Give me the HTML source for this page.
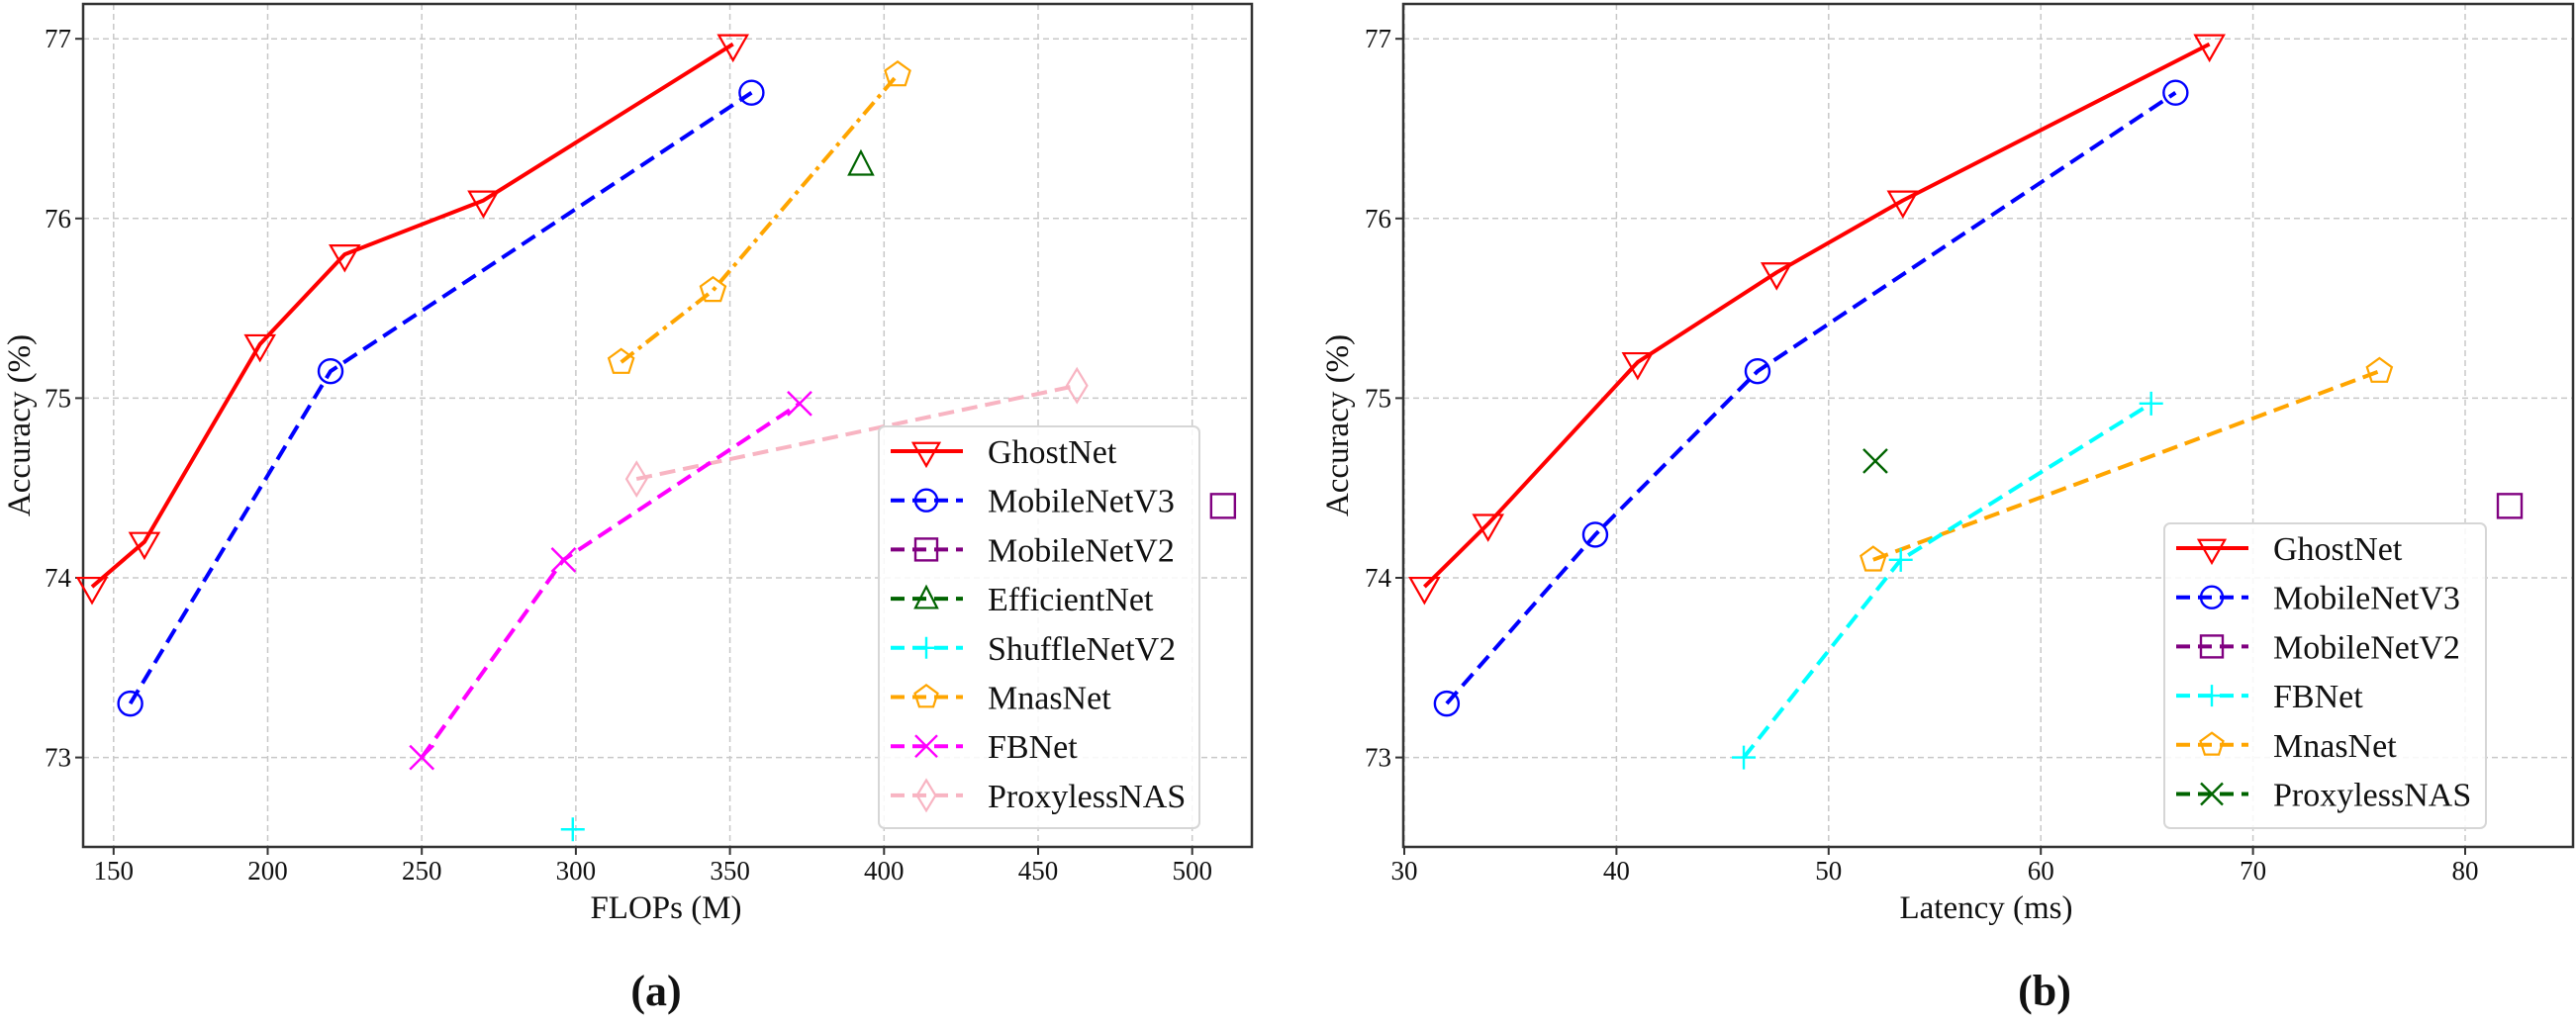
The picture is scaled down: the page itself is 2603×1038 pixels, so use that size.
<!DOCTYPE html>
<html><head><meta charset="utf-8">
<style>
html,body{margin:0;padding:0;background:#fff;}
svg{display:block;font-family:"Liberation Serif",serif;}
svg text{font-family:"Liberation Serif",serif;fill:#111;}
</style></head>
<body>
<svg id="fig" width="2603" height="1038" viewBox="0 0 2603 1038" xmlns="http://www.w3.org/2000/svg" font-family="Liberation Serif, serif"></svg>
<script>
// ---- Chart (a) data: FLOPs vs accuracy ----
const aGhostX = [143, 160, 197.5, 225, 270, 351];
const aGhostY = [73.95, 74.2, 75.3, 75.8, 76.1, 76.97];
const aMbv3X = [155.4, 220.4, 357];
const aMbv3Y = [73.3, 75.15, 76.7];
const aMbv2X = [510];
const aMbv2Y = [74.4];
const aEffX = [392.5];
const aEffY = [76.3];
const aShuffleX = [299];
const aShuffleY = [72.6];
const aMnasX = [314.7, 344.5, 404.4];
const aMnasY = [75.2, 75.6, 76.8];
const aFbX = [250, 296, 372.6];
const aFbY = [73.0, 74.1, 74.97];
const aProxX = [319.7, 462.6];
const aProxY = [74.55, 75.07];
const aXTicks = [150, 200, 250, 300, 350, 400, 450, 500];
const yTicks = [73, 74, 75, 76, 77];

// ---- Chart (b) data: Latency vs accuracy ----
const bGhostX = [30.95, 33.95, 41, 47.55, 53.5, 67.95];
const bGhostY = [73.95, 74.3, 75.2, 75.7, 76.1, 76.97];
const bMbv3X = [32, 39, 46.65, 66.35];
const bMbv3Y = [73.3, 74.24, 75.15, 76.7];
const bMbv2X = [82.1];
const bMbv2Y = [74.4];
const bFbX = [46, 53.4, 65.2];
const bFbY = [73.0, 74.1, 74.97];
const bMnasX = [52.1, 75.96];
const bMnasY = [74.1, 75.15];
const bProxX = [52.2];
const bProxY = [74.65];
const bXTicks = [30, 40, 50, 60, 70, 80];

const NS = "http://www.w3.org/2000/svg";
const FONT = '"Liberation Serif", serif';
const svg = document.getElementById('fig');
function el(tag, attrs, parent){
  const e = document.createElementNS(NS, tag);
  for (const k in attrs) e.setAttribute(k, attrs[k]);
  if (tag === 'text') { e.setAttribute('font-family', FONT); e.setAttribute('fill', '#111'); }
  (parent||svg).appendChild(e);
  return e;
}
function yScale(v){ return 39.2 + (77 - v) * 181.6; }

function marker(g, type, cx, cy, color, r){
  r = r || 12;
  let m = null;
  if (type === 'tri') {
    m = el('polygon', {points:`${cx-r*1.2},${cy-r*0.75} ${cx+r*1.2},${cy-r*0.75} ${cx},${cy+r*1.35}`, fill:'none', stroke:color, 'stroke-width':2.2}, g);
  } else if (type === 'triup') {
    m = el('polygon', {points:`${cx-r},${cy+r*0.85} ${cx+r},${cy+r*0.85} ${cx},${cy-r*1.1}`, fill:'none', stroke:color, 'stroke-width':2.2}, g);
  } else if (type === 'circle') {
    m = el('circle', {cx:cx, cy:cy, r:r, fill:'none', stroke:color, 'stroke-width':2.4}, g);
  } else if (type === 'square') {
    m = el('rect', {x:cx-r, y:cy-r, width:2*r, height:2*r, fill:'none', stroke:color, 'stroke-width':2.4}, g);
  } else if (type === 'plus') {
    m = el('path', {d:`M${cx-r} ${cy}H${cx+r}M${cx} ${cy-r}V${cy+r}`, stroke:color, 'stroke-width':2.4, fill:'none'}, g);
  } else if (type === 'x') {
    m = el('path', {d:`M${cx-r} ${cy-r}L${cx+r} ${cy+r}M${cx+r} ${cy-r}L${cx-r} ${cy+r}`, stroke:color, 'stroke-width':2.4, fill:'none'}, g);
  } else if (type === 'pent') {
    let pts = [];
    for (let i=0;i<5;i++){ const a = -Math.PI/2 + i*2*Math.PI/5; pts.push((cx+r*1.1*Math.cos(a)).toFixed(1)+','+(cy+r*1.1*Math.sin(a)).toFixed(1)); }
    m = el('polygon', {points:pts.join(' '), fill:'none', stroke:color, 'stroke-width':2.2}, g);
  } else if (type === 'diamond') {
    m = el('polygon', {points:`${cx},${cy-r*1.4} ${cx+r*0.85},${cy} ${cx},${cy+r*1.4} ${cx-r*0.85},${cy}`, fill:'none', stroke:color, 'stroke-width':2.2}, g);
  }
  if (!m) return null;
  
  
  return m;
}

function series(g, name, xs, ys, xs2px, color, dash, mtype, width){
  const sg = el('g', {}, g);
  
  
  if (xs.length > 1) {
    const pts = xs.map((x,i)=> xs2px(x).toFixed(1)+','+yScale(ys[i]).toFixed(1)).join(' ');
    const ln = el('polyline', {points:pts, fill:'none', stroke:color, 'stroke-width':width||4, 'stroke-dasharray':dash||'none', 'stroke-linejoin':'round'}, sg);
    
    
  }
  if (mtype) xs.forEach((x,i)=> marker(sg, mtype, xs2px(x), yScale(ys[i]), color));
}

function axes(g, x0, x1, xTicks, xs2px, prefix){
  xTicks.forEach(t=>{
    const gl = el('line', {x1:xs2px(t), x2:xs2px(t), y1:4, y2:856, stroke:'#c8c8c8', 'stroke-width':1.5, 'stroke-dasharray':'6,4'}, g);
    
    
  });
  yTicks.forEach(t=>{
    const gl = el('line', {x1:x0, x2:x1, y1:yScale(t), y2:yScale(t), stroke:'#c8c8c8', 'stroke-width':1.5, 'stroke-dasharray':'6,4'}, g);
    
    
  });
  const fr = el('rect', {x:x0, y:4, width:x1-x0, height:852, fill:'none', stroke:'#333', 'stroke-width':2.5}, g);
  
  
  xTicks.forEach(t=>{
    const px = xs2px(t);
    el('line', {x1:px, x2:px, y1:856, y2:864, stroke:'#333', 'stroke-width':2}, g);
    const tx = el('text', {x:px, y:889, 'font-size':27, 'text-anchor':'middle'}, g);
    tx.textContent = t;
    
    
  });
  yTicks.forEach(t=>{
    const py = yScale(t);
    el('line', {x1:x0-8, x2:x0, y1:py, y2:py, stroke:'#333', 'stroke-width':2}, g);
    const tx = el('text', {x:x0-12, y:py+9, 'font-size':27, 'text-anchor':'end'}, g);
    tx.textContent = t;
    
    
  });
}

function legend(g, x, y, w, h, entries, prefix){
  const lg = el('g', {}, g);
  
  
  el('rect', {x:x, y:y, width:w, height:h, rx:6, fill:'rgba(255,255,255,0.85)', stroke:'#d6d6d6', 'stroke-width':2}, lg);
  entries.forEach((e,i)=>{
    const cy = y + 25 + i*49.7;
    const eg = el('g', {}, lg);
    
    
    el('line', {x1:x+12, x2:x+85, y1:cy, y2:cy, stroke:e.color, 'stroke-width':4, 'stroke-dasharray':e.dash||'none'}, eg);
    marker(eg, e.m, x+48, cy, e.color, 11);
    const t = el('text', {x:x+110, y:cy+12, 'font-size':34}, eg);
    t.textContent = e.name;
  });
}

// ===== Chart (a) =====
const gA = el('g', {});


const ax = v => 114.8 + (v - 150) * 3.114;
axes(gA, 84, 1265, aXTicks, ax, 'chart-a');
series(gA, 'a-proxylessnas', aProxX, aProxY, ax, '#f8b4c2', '16,8', 'diamond');
series(gA, 'a-fbnet', aFbX, aFbY, ax, '#ff00ff', '16,8', 'x');
series(gA, 'a-mnasnet', aMnasX, aMnasY, ax, '#ffa500', '16,6,4,6', 'pent');
series(gA, 'a-mobilenetv3', aMbv3X, aMbv3Y, ax, '#0000ff', '16,8', 'circle');
series(gA, 'a-ghostnet', aGhostX, aGhostY, ax, '#ff0000', null, 'tri');
series(gA, 'a-mobilenetv2', aMbv2X, aMbv2Y, ax, '#800080', null, 'square');
series(gA, 'a-efficientnet', aEffX, aEffY, ax, '#006400', null, 'triup');
series(gA, 'a-shufflenetv2', aShuffleX, aShuffleY, ax, '#00ffff', null, 'plus');
legend(gA, 888, 431, 324, 406, [
  {name:'GhostNet', color:'#ff0000', m:'tri'},
  {name:'MobileNetV3', color:'#0000ff', m:'circle', dash:'14,8'},
  {name:'MobileNetV2', color:'#800080', m:'square', dash:'14,8'},
  {name:'EfficientNet', color:'#006400', m:'triup', dash:'14,8'},
  {name:'ShuffleNetV2', color:'#00ffff', m:'plus', dash:'14,8'},
  {name:'MnasNet', color:'#ffa500', m:'pent', dash:'14,8'},
  {name:'FBNet', color:'#ff00ff', m:'x', dash:'14,8'},
  {name:'ProxylessNAS', color:'#f8b4c2', m:'diamond', dash:'14,8'}
], 'chart-a');
const axT = el('text', {x:673, y:928, 'font-size':33, 'text-anchor':'middle'}, gA);
axT.textContent = 'FLOPs (M)';


const ayT = el('text', {x:0, y:0, 'font-size':33, 'text-anchor':'middle', transform:'translate(30,430) rotate(-90)'}, gA);
ayT.textContent = 'Accuracy (%)';


const aCap = el('text', {x:663, y:1016, 'font-size':44, 'font-weight':'bold', 'text-anchor':'middle'}, gA);
aCap.textContent = '(a)';



// ===== Chart (b) =====
const gB = el('g', {});


const bx = v => 1419 + (v - 30) * 21.44;
axes(gB, 1418, 2600, bXTicks, bx, 'chart-b');
series(gB, 'b-mnasnet', bMnasX, bMnasY, bx, '#ffa500', '16,8', 'pent');
series(gB, 'b-fbnet', bFbX, bFbY, bx, '#00ffff', '16,8', 'plus');
series(gB, 'b-mobilenetv3', bMbv3X, bMbv3Y, bx, '#0000ff', '16,8', 'circle');
series(gB, 'b-ghostnet', bGhostX, bGhostY, bx, '#ff0000', null, 'tri');
series(gB, 'b-mobilenetv2', bMbv2X, bMbv2Y, bx, '#800080', null, 'square');
series(gB, 'b-proxylessnas', bProxX, bProxY, bx, '#006400', null, 'x');
legend(gB, 2187, 529, 325, 308, [
  {name:'GhostNet', color:'#ff0000', m:'tri'},
  {name:'MobileNetV3', color:'#0000ff', m:'circle', dash:'14,8'},
  {name:'MobileNetV2', color:'#800080', m:'square', dash:'14,8'},
  {name:'FBNet', color:'#00ffff', m:'plus', dash:'14,8'},
  {name:'MnasNet', color:'#ffa500', m:'pent', dash:'14,8'},
  {name:'ProxylessNAS', color:'#006400', m:'x', dash:'14,8'}
], 'chart-b');
const bxT = el('text', {x:2007, y:928, 'font-size':33, 'text-anchor':'middle'}, gB);
bxT.textContent = 'Latency (ms)';


const byT = el('text', {x:0, y:0, 'font-size':33, 'text-anchor':'middle', transform:'translate(1362,430) rotate(-90)'}, gB);
byT.textContent = 'Accuracy (%)';


const bCap = el('text', {x:2066, y:1016, 'font-size':44, 'font-weight':'bold', 'text-anchor':'middle'}, gB);
bCap.textContent = '(b)';


</script>
</body></html>
